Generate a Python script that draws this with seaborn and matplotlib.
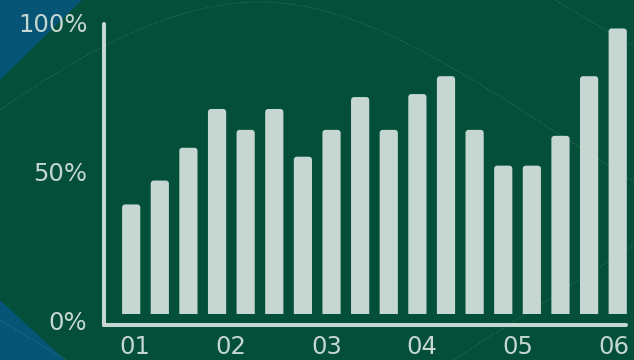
import numpy as np
import pandas as pd
import matplotlib
matplotlib.use("Agg")
import matplotlib.pyplot as plt
from matplotlib.patches import FancyBboxPatch, Rectangle, Polygon, PathPatch
from matplotlib.path import Path
import seaborn as sns

# bar heights in percent, one bar per slot
shares = [39, 47, 58, 71, 64, 71, 55, 64, 75, 64, 76, 82, 64, 52, 52, 62, 82, 98]
slots = list(range(len(shares)))
period_labels = ["01", "02", "03", "04", "05", "06"]
period_pos = [0.14, 3.48, 6.82, 10.16, 13.5, 16.85]
pct_ticks = [0, 50, 100]
pct_labels = ["0%", "50%", "100%"]

BG = "#034f39"
BLUE = "#065476"
INK = "#c6d7d1"

W, H = 634, 360
fig = plt.figure(figsize=(W / 100, H / 100), dpi=100, facecolor=BG)

# decorative backdrop, laid out in pixel coordinates
bg = fig.add_axes([0, 0, 1, 1], zorder=0)
bg.set_xlim(0, W)
bg.set_ylim(H, 0)
bg.axis("off")
bg.add_patch(Polygon([(0, 0), (82, 0), (0, 80)], closed=True, fc=BLUE, ec="none"))
bg.add_patch(Polygon([(0, 300), (65, 360), (0, 360)], closed=True, fc=BLUE, ec="none"))
line_kw = dict(color="white", alpha=0.14, lw=0.7, ls=(0, (2, 1.5)))
arc = Path([(0, 110), (80, 55), (170, 2), (260, 2), (370, 2), (480, 85), (634, 182)],
           [Path.MOVETO] + [Path.CURVE4] * 6)
bg.add_patch(PathPatch(arc, fill=False, **line_kw))
for (x0, y0), (x1, y1) in [((0, 320), (66, 360)), ((453, 360), (634, 245)), ((555, 0), (634, 47))]:
    bg.plot([x0, x1], [y0, y1], **line_kw)

# main chart
ax = fig.add_axes([104 / W, 1 - 325.2 / H, 522.3 / W, 302.7 / H], zorder=1)
ax.patch.set_alpha(0)
df = pd.DataFrame({"slot": slots, "share": shares})
sns.barplot(data=df, x="slot", y="share", color=INK, saturation=1, width=0.636, ax=ax)

x_lo, x_hi = -0.95, 17.3
y_lo, y_hi = -1.5, 100
ax.set_xlim(x_lo, x_hi)
ax.set_ylim(y_lo, y_hi)
px_x = (x_hi - x_lo) / 522.3
px_y = (y_hi - y_lo) / 302.7

# swap plain bars for ones with rounded tops, lifted slightly off the baseline
base = 2.25
r = 3.0
clip = Rectangle((x_lo - 1, base), 30, 200, transform=ax.transData)
for bar in list(ax.patches):
    x, w, h = bar.get_x(), bar.get_width(), bar.get_height()
    bar.remove()
    y0 = base - 2 * r * px_y
    rb = FancyBboxPatch((x, y0), w, h - y0,
                        boxstyle=f"round,pad=0,rounding_size={r * px_x}",
                        mutation_aspect=px_y / px_x,
                        fc=INK, ec="none", zorder=2)
    ax.add_patch(rb)
    rb.set_clip_path(clip)

sns.despine(ax=ax)
for s in ("left", "bottom"):
    ax.spines[s].set_color(INK)
    ax.spines[s].set_linewidth(2.9)
    ax.spines[s].set_capstyle("round")
ax.spines["left"].set_bounds(y_lo, 99.4)

ax.set_xticks(period_pos, period_labels)
ax.set_yticks(pct_ticks, pct_labels)
ax.tick_params(length=0, colors=INK, labelsize=17.5)
ax.tick_params(axis="y", pad=12)
ax.tick_params(axis="x", pad=7)
ax.set_xlabel("")
ax.set_ylabel("")
ax.grid(False)

fig.savefig("out.png", dpi=100, facecolor=BG)
